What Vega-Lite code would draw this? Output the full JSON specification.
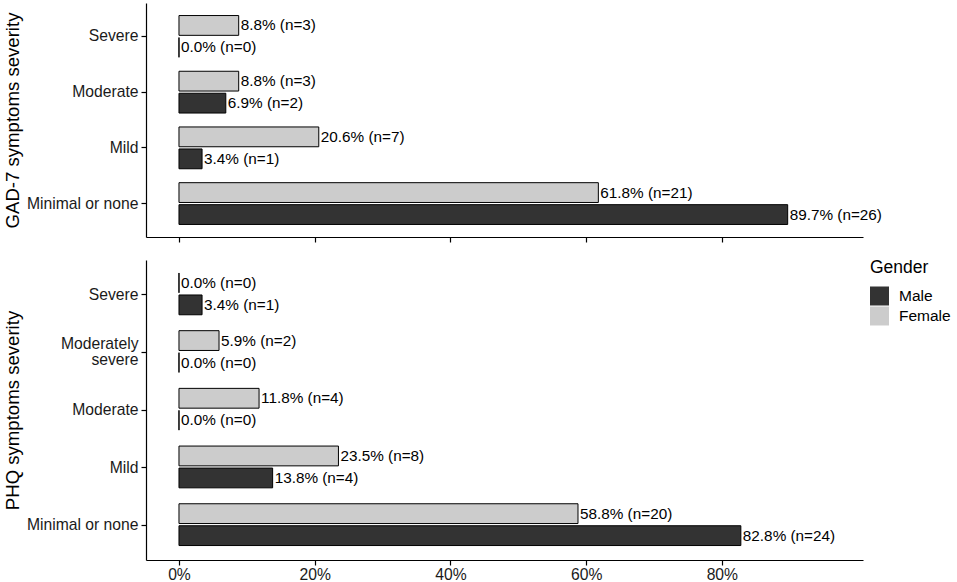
{
  "$schema": "https://vega.github.io/schema/vega-lite/v6.json",
  "padding": {"left": 3, "top": 3, "right": 0, "bottom": 5},
  "background": "white",
  "config": {
    "font": "Liberation Sans",
    "view": {"stroke": null},
    "axis": {
      "grid": false,
      "domainColor": "black",
      "domainWidth": 1.2,
      "tickColor": "black",
      "tickWidth": 1.2,
      "tickSize": 5,
      "labelFont": "Liberation Sans",
      "labelFontSize": 15.7,
      "labelColor": "#1a1a1a",
      "labelPadding": 3,
      "titleFont": "Liberation Sans",
      "titleFontSize": 18.6,
      "titleFontWeight": "normal",
      "titleColor": "black"
    },
    "legend": {
      "titleFont": "Liberation Sans",
      "titleFontSize": 17.5,
      "titleFontWeight": "normal",
      "labelFont": "Liberation Sans",
      "labelFontSize": 15.5,
      "labelColor": "black"
    }
  },
  "datasets": {
    "gad": [
      {"severity": "Severe", "gender": "Female", "pct": 8.8, "label": "8.8% (n=3)"},
      {"severity": "Severe", "gender": "Male", "pct": 0.0, "label": "0.0% (n=0)"},
      {"severity": "Moderate", "gender": "Female", "pct": 8.8, "label": "8.8% (n=3)"},
      {"severity": "Moderate", "gender": "Male", "pct": 6.9, "label": "6.9% (n=2)"},
      {"severity": "Mild", "gender": "Female", "pct": 20.6, "label": "20.6% (n=7)"},
      {"severity": "Mild", "gender": "Male", "pct": 3.4, "label": "3.4% (n=1)"},
      {"severity": "Minimal or none", "gender": "Female", "pct": 61.8, "label": "61.8% (n=21)"},
      {"severity": "Minimal or none", "gender": "Male", "pct": 89.7, "label": "89.7% (n=26)"}
    ],
    "phq": [
      {"severity": "Severe", "gender": "Female", "pct": 0.0, "label": "0.0% (n=0)"},
      {"severity": "Severe", "gender": "Male", "pct": 3.4, "label": "3.4% (n=1)"},
      {"severity": "Moderately severe", "gender": "Female", "pct": 5.9, "label": "5.9% (n=2)"},
      {"severity": "Moderately severe", "gender": "Male", "pct": 0.0, "label": "0.0% (n=0)"},
      {"severity": "Moderate", "gender": "Female", "pct": 11.8, "label": "11.8% (n=4)"},
      {"severity": "Moderate", "gender": "Male", "pct": 0.0, "label": "0.0% (n=0)"},
      {"severity": "Mild", "gender": "Female", "pct": 23.5, "label": "23.5% (n=8)"},
      {"severity": "Mild", "gender": "Male", "pct": 13.8, "label": "13.8% (n=4)"},
      {"severity": "Minimal or none", "gender": "Female", "pct": 58.8, "label": "58.8% (n=20)"},
      {"severity": "Minimal or none", "gender": "Male", "pct": 82.8, "label": "82.8% (n=24)"}
    ]
  },
  "spacing": 17,
  "resolve": {"scale": {"color": "shared"}},
  "vconcat": [
    {
      "width": 717,
      "height": 234,
      "data": {"name": "gad"},
      "encoding": {
        "y": {
          "field": "severity", "type": "nominal",
          "sort": ["Severe", "Moderate", "Mild", "Minimal or none"],
          "scale": {"paddingInner": 0.25, "paddingOuter": 0.225},
          "axis": {"title": "GAD-7 symptoms severity", "titlePadding": 4}
        },
        "yOffset": {
          "field": "gender", "type": "nominal",
          "scale": {"domain": ["Female", "Male"], "paddingInner": 0.1}
        },
        "x": {
          "field": "pct", "type": "quantitative",
          "scale": {"domain": [-4.86, 100.8], "nice": false, "zero": false},
          "axis": {"values": [0, 20, 40, 60, 80], "labels": false, "title": null}
        }
      },
      "layer": [
        {
          "mark": {"type": "bar", "stroke": "black", "strokeWidth": 1},
          "encoding": {
            "x2": {"datum": 0},
            "color": {
              "field": "gender", "type": "nominal",
              "scale": {"domain": ["Male", "Female"], "range": ["#333333", "#cccccc"]},
              "legend": {"title": "Gender", "orient": "none", "legendX": 724, "legendY": 256, "symbolType": "square", "symbolSize": 361, "symbolStrokeWidth": 0, "rowPadding": 1, "labelOffset": 10, "titlePadding": 10}
            }
          }
        },
        {
          "mark": {"type": "text", "align": "left", "baseline": "middle", "dx": 2, "fontSize": 15.3, "color": "black"},
          "encoding": {"text": {"field": "label"}}
        }
      ]
    },
    {
      "width": 717,
      "height": 300,
      "data": {"name": "phq"},
      "encoding": {
        "y": {
          "field": "severity", "type": "nominal",
          "sort": ["Severe", "Moderately severe", "Moderate", "Mild", "Minimal or none"],
          "scale": {"paddingInner": 0.25, "paddingOuter": 0.225},
          "axis": {
            "title": "PHQ symptoms severity", "titlePadding": 4,
            "labelLineHeight": 16,
            "labelOffset": {"condition": {"test": "datum.value == 'Moderately severe'", "value": -8}, "value": 0},
            "labelExpr": "datum.label == 'Moderately severe' ? ['Moderately', 'severe'] : datum.label"
          }
        },
        "yOffset": {
          "field": "gender", "type": "nominal",
          "scale": {"domain": ["Female", "Male"], "paddingInner": 0.1}
        },
        "x": {
          "field": "pct", "type": "quantitative",
          "scale": {"domain": [-4.86, 100.8], "nice": false, "zero": false},
          "axis": {"values": [0, 20, 40, 60, 80], "labelExpr": "datum.value + '%'", "title": null, "labelPadding": 2}
        }
      },
      "layer": [
        {
          "mark": {"type": "bar", "stroke": "black", "strokeWidth": 1},
          "encoding": {
            "x2": {"datum": 0},
            "color": {
              "field": "gender", "type": "nominal",
              "scale": {"domain": ["Male", "Female"], "range": ["#333333", "#cccccc"]}
            }
          }
        },
        {
          "mark": {"type": "text", "align": "left", "baseline": "middle", "dx": 2, "fontSize": 15.3, "color": "black"},
          "encoding": {"text": {"field": "label"}}
        }
      ]
    }
  ]
}
